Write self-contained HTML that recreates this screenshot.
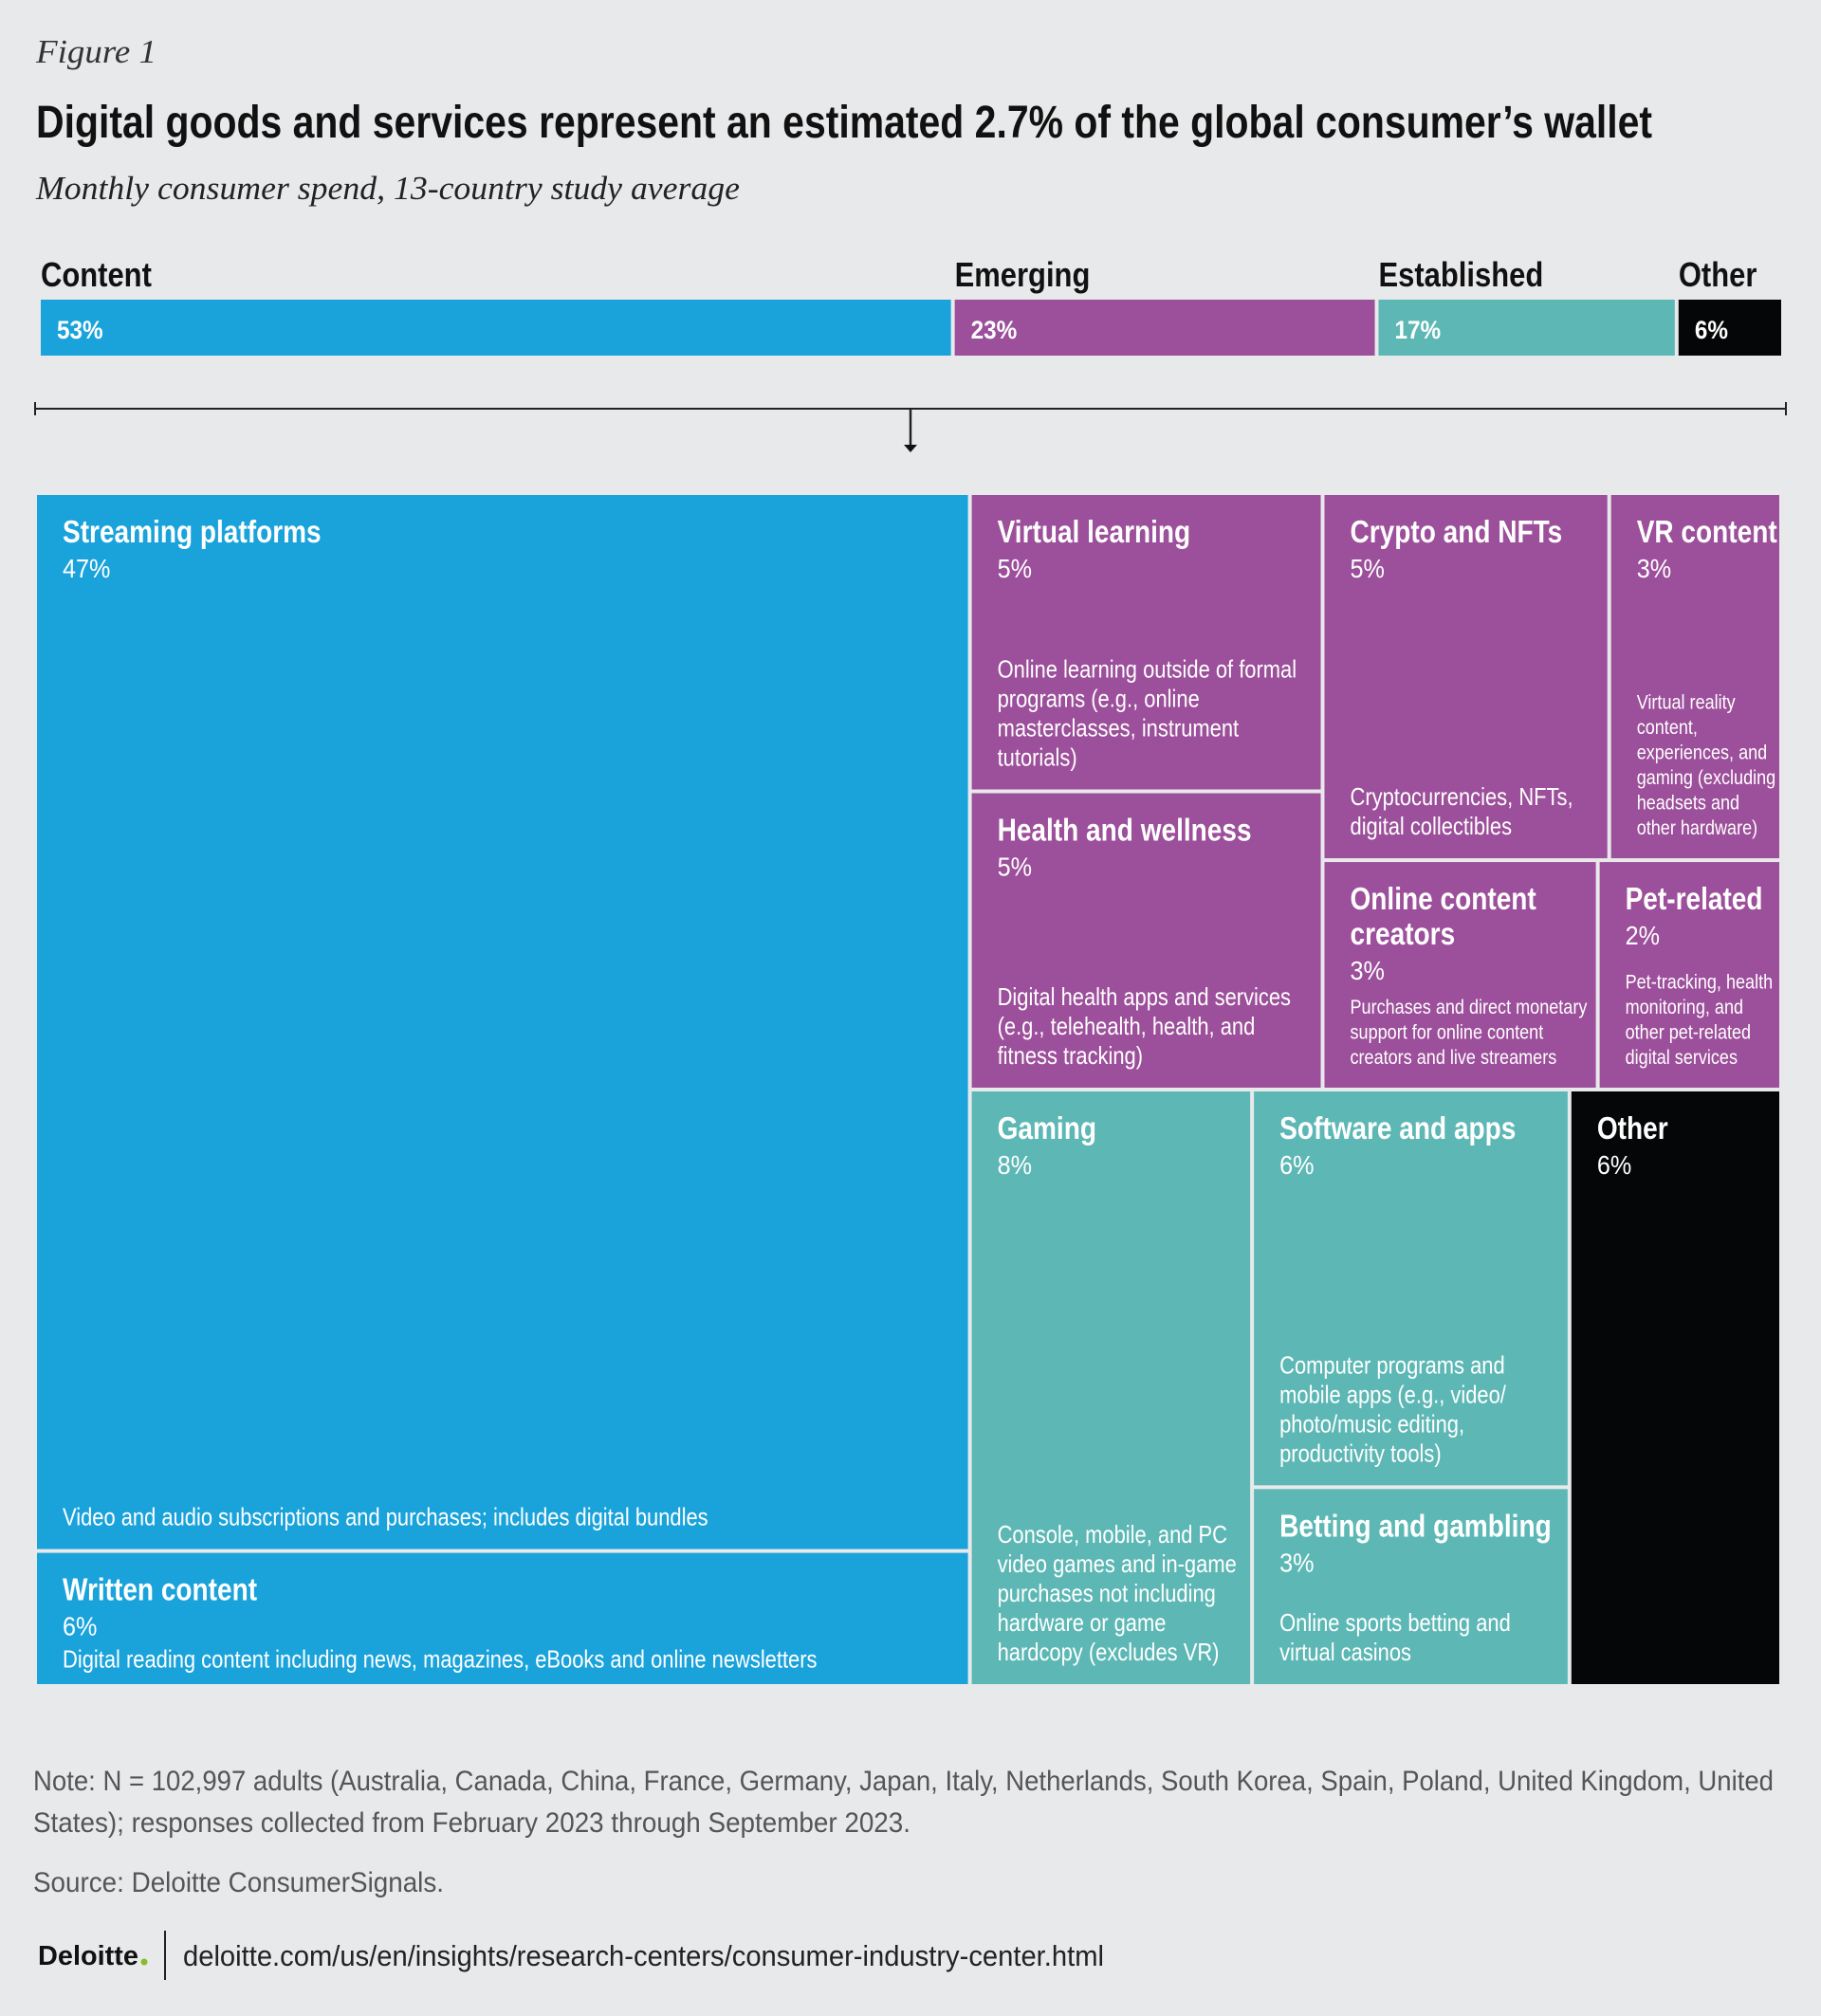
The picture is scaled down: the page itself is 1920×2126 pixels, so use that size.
<!DOCTYPE html>
<html><head><meta charset="utf-8">
<style>
html,body{margin:0;padding:0;background:#e8e9eb;}
svg{display:block;}
.nar{font-family:"Liberation Sans",sans-serif;}
.ser{font-family:"Liberation Serif",serif;font-style:italic;}
</style></head>
<body>
<svg id="chart" width="1920" height="2126" viewBox="0 0 1920 2126" xmlns="http://www.w3.org/2000/svg">
<rect x="0" y="0" width="1920" height="2126" fill="#e8e9eb"/>
<text class="ser" x="38" y="66" font-size="35" fill="#333" textLength="127" lengthAdjust="spacingAndGlyphs">Figure 1</text>
<text class="nar" x="38" y="145" font-size="48" font-weight="bold" fill="#111" textLength="1704" lengthAdjust="spacingAndGlyphs">Digital goods and services represent an estimated 2.7% of the global consumer’s wallet</text>
<text class="ser" x="38" y="210" font-size="35" fill="#222" textLength="742" lengthAdjust="spacingAndGlyphs">Monthly consumer spend, 13-country study average</text>
<g id="topbar"></g>
<g>
<line x1="37" y1="431" x2="1883" y2="431" stroke="#222" stroke-width="2"/>
<line x1="37" y1="424" x2="37" y2="438" stroke="#222" stroke-width="2"/>
<line x1="1883" y1="424" x2="1883" y2="438" stroke="#222" stroke-width="2"/>
<line x1="960" y1="431" x2="960" y2="470" stroke="#222" stroke-width="2.5"/>
<polygon points="953,469 967,469 960,477" fill="#111"/>
</g>
<g id="treemap"></g>
<g>
<text class="nar" x="35" y="1888" font-size="30" fill="#555" textLength="1835" lengthAdjust="spacingAndGlyphs">Note: N = 102,997 adults (Australia, Canada, China, France, Germany, Japan, Italy, Netherlands, South Korea, Spain, Poland, United Kingdom, United</text>
<text class="nar" x="35" y="1932" font-size="30" fill="#555" textLength="925" lengthAdjust="spacingAndGlyphs">States); responses collected from February 2023 through September 2023.</text>
<text class="nar" x="35" y="1995" font-size="30" fill="#555" textLength="433" lengthAdjust="spacingAndGlyphs">Source: Deloitte ConsumerSignals.</text>
<text x="40" y="2072" font-family="Liberation Sans, sans-serif" font-size="29" font-weight="bold" fill="#111" textLength="106" lengthAdjust="spacingAndGlyphs">Deloitte</text>
<circle cx="152" cy="2069" r="3.5" fill="#86bc25"/>
<line x1="174" y1="2036" x2="174" y2="2088" stroke="#222" stroke-width="2"/>
<text class="nar" x="193" y="2073" font-size="31" fill="#222" textLength="971" lengthAdjust="spacingAndGlyphs">deloitte.com/us/en/insights/research-centers/consumer-industry-center.html</text>
</g>
</svg>
<script>
// Top bar data
const groupNames = ["Content", "Emerging", "Established", "Other"];
const groupValues = [52.4, 24.3, 17.2, 6.1];
const groupLabels = ["53%", "23%", "17%", "6%"];
const groupColors = ["#1aa3db", "#9c4f9a", "#5db8b5", "#050607"];

// Treemap leaf data
const leafNames = ["Streaming platforms", "Written content", "Virtual learning", "Health and wellness", "Crypto and NFTs", "VR content", "Online content creators", "Pet-related", "Gaming", "Software and apps", "Betting and gambling", "Other"];
const leafValues = [47, 6, 5, 5, 5, 3, 3, 2, 8, 6, 3, 6];
const leafGroup = [0, 0, 1, 1, 1, 1, 1, 1, 2, 2, 2, 3];
const leafDesc = [
 ["Video and audio subscriptions and purchases; includes digital bundles"],
 ["Digital reading content including news, magazines, eBooks and online newsletters"],
 ["Online learning outside of formal", "programs (e.g., online", "masterclasses, instrument", "tutorials)"],
 ["Digital health apps and services", "(e.g., telehealth, health, and", "fitness tracking)"],
 ["Cryptocurrencies, NFTs,", "digital collectibles"],
 ["Virtual reality", "content,", "experiences, and", "gaming (excluding", "headsets and", "other hardware)"],
 ["Purchases and direct monetary", "support for online content", "creators and live streamers"],
 ["Pet-tracking, health", "monitoring, and", "other pet-related", "digital services"],
 ["Console, mobile, and PC", "video games and in-game", "purchases not including", "hardware or game", "hardcopy (excludes VR)"],
 ["Computer programs and", "mobile apps (e.g., video/", "photo/music editing,", "productivity tools)"],
 ["Online sports betting and", "virtual casinos"],
 []
];
const leafTitleLines = [["Streaming platforms"],["Written content"],["Virtual learning"],["Health and wellness"],["Crypto and NFTs"],["VR content"],["Online content","creators"],["Pet-related"],["Gaming"],["Software and apps"],["Betting and gambling"],["Other"]];
const leafSmall = [false,false,false,false,false,true,true,true,false,false,false,false];
const leafInline = [false,true,false,false,false,false,false,false,false,false,false,false];
// Split hierarchy (leaf indices); 'h' = side by side, 'v' = stacked
const tree = {d:'h', c:[
  {d:'v', c:[0,1]},
  {d:'v', c:[
    {d:'h', c:[{d:'v', c:[2,3]}, {d:'v', c:[{d:'h', c:[4,5]}, {d:'h', c:[6,7]}]}]},
    {d:'h', c:[8, {d:'v', c:[9,10]}, 11]}
  ]}
]};

const NS = "http://www.w3.org/2000/svg";
function mk(tag, attrs, parent){ const e=document.createElementNS(NS,tag); for(const k in attrs) e.setAttribute(k,attrs[k]); parent.appendChild(e); return e; }
function txt(parent, x, y, str, attrs, sx){
  const t = mk('text', Object.assign({x:0, y:0, class:'nar', transform:'translate('+x+','+y+') scale('+sx+',1)'}, attrs), parent);
  t.textContent = str;
  return t;
}
function slug(s){ return s.toLowerCase().replace(/[^a-z0-9]+/g,'-').replace(/^-|-$/g,''); }

// Top bar
const barX0 = 43, barX1 = 1882, barY = 316, barH = 59, gap = 4;
const total = groupValues.reduce((a,b)=>a+b,0);
const xScale = v => v / total * (barX1 - barX0);
const tb = document.getElementById('topbar');
let cx = barX0;
groupValues.forEach((v,i)=>{
  const w = xScale(v);
  const r = mk('rect',{x:cx,y:barY,width:w-gap,height:barH,fill:groupColors[i]},tb);
  
  
  const lab = txt(tb, cx, 302, groupNames[i], {'font-size':36,'font-weight':'bold',fill:'#111'}, 0.86);
  
  
  const pl = txt(tb, cx+17, 357, groupLabels[i], {'font-size':27,'font-weight':'bold',fill:'#fff'}, 0.9);
  
  
  cx += w;
});

// Treemap layout
function sum(n){ return typeof n === 'number' ? leafValues[n] : n.c.reduce((a,c)=>a+sum(c),0); }
const rects = [];
function layout(n, x, y, w, h){
  if (typeof n === 'number'){ rects[n] = {x,y,w,h}; return; }
  const t = sum(n); let off = 0;
  n.c.forEach(c=>{
    const f = sum(c)/t;
    if (n.d==='h'){ layout(c, x+off, y, w*f, h); off += w*f; }
    else { layout(c, x, y+off, w, h*f); off += h*f; }
  });
}
const TX=39, TY=522, TW=1841, TH=1258;
layout(tree, TX, TY, TW, TH);
const tm = document.getElementById('treemap');
rects.forEach((r,i)=>{
  const g = mk('g',{},tm);
  
  
  const rr = mk('rect',{x:r.x,y:r.y,width:r.w-4,height:r.h-4,fill:groupColors[leafGroup[i]]},g);
  
  
  const tx = r.x + 27;
  let ty = r.y + 50;
  leafTitleLines[i].forEach(line=>{
    const t = txt(g, tx, ty, line, {'font-size':33,'font-weight':'bold',fill:'#fff'}, 0.85);
    
    
    ty += 37;
  });
  const p = txt(g, tx, ty, leafValues[i] + '%', {'font-size':28,fill:'#fff'}, 0.9);
  
  
  const fs = leafSmall[i] ? 21 : 25.5;
  const lh = leafSmall[i] ? 26.5 : 31;
  const lines = leafDesc[i];
  let dy;
  if (leafInline[i]) dy = ty + 34;
  else dy = r.y + r.h - 4 - 25 - (lines.length-1)*lh;
  lines.forEach(line=>{
    const d = txt(g, tx, dy, line, {'font-size':fs,fill:'#fff'}, 0.86);
    
    
    dy += lh;
  });
});
</script>
</body></html>
